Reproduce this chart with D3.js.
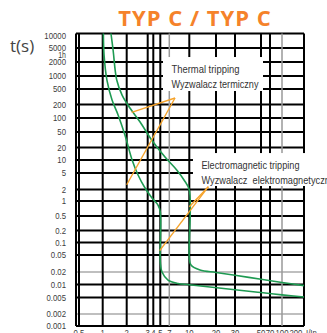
<!DOCTYPE html>
<html><head><meta charset="utf-8">
<script src="https://cdn.jsdelivr.net/npm/d3@7"></script>
<style>
html,body{margin:0;padding:0;background:#fff;overflow:hidden}
svg{display:block}
</style></head><body>
<svg id="chart" width="327" height="333"></svg>
<script>
// ---------- data ----------
const chartTitle = "TYP C / TYP C";
const yAxisTitle = "t(s)";
const xAxisUnit = "I/In";
const xTickValues = [0.5, 1, 2, 3, 4, 5, 7, 10, 20, 30, 50, 70, 100, 200];
const xTickLabels = ["0.5", "1", "2", "3", "4", "5", "7", "10", "20", "30", "50", "70", "100", "200"];
const xGridValues = [0.5, 1, 2, 3, 4, 5, 7, 10, 20, 30, 50, 70, 100];
const xGridLight = [7, 100];
const yTickValues = [10000, 5000, 2000, 1000, 500, 200, 100, 50, 20, 10, 5, 2, 1, 0.5, 0.2, 0.1, 0.05, 0.02, 0.01, 0.005, 0.002, 0.001];
const yTickLabels = ["10000", "5000", "2000", "1000", "500", "200", "100", "50", "20", "10", "5", "2", "1", "0.5", "0.2", "0.1", "0.05", "0.02", "0.01", "0.005", "0.002", "0.001"];
const yGridLight = [0.02, 0.002];
const hourValue = 3600;
const hourLabel = "1h";

// lower (cold) tripping limit
const minCurveI = [1.02, 1.04, 1.13, 1.31, 1.56, 1.90, 2.22, 2.49, 2.85, 3.74, 4.65, 5, 5, 5.33, 6.67, 8.17, 10, 30, 50, 100, 300];
const minCurveT = [10000, 3160, 807, 261, 117, 41.9, 10, 4.48, 2.17, 1.2, 0.83, 0.6, 0.0343, 0.02, 0.0128, 0.0106, 0.0099, 0.00758, 0.0065, 0.00574, 0.00514];
// upper tripping limit
const maxCurveI = [1.27, 1.35, 1.50, 1.75, 2.13, 2.59, 3.68, 5.96, 7.99, 9.1, 10, 10, 10.45, 13.2, 20, 30, 50, 100, 300];
const maxCurveT = [10000, 4385, 807, 350, 167, 82, 31.2, 11.8, 5.87, 3.39, 1.94, 0.0425, 0.0292, 0.0223, 0.0195, 0.0167, 0.0134, 0.0112, 0.0094];

// annotations (data coordinates)
const thermalText = ["Thermal tripping", "Wyzwalacz termiczny"];
const thermalTextWidths = [68, 87];
const thermalBox = {i0: 5.53, t0: 2770, i1: 53.9, t1: 444};
const thermalArrowFrom = {i: 7.75, t: 294};
const thermalArrowTo = [{i: 2.20, t: 134}, {i: 2.0, t: 2.6}];
const emText = ["Electromagnetic tripping", "Wyzwalacz  elektromagnetyczny"];
const emTextWidths = [98, 133];
const emBox = {i0: 11.0, t0: 14.7, i1: 1000, t1: 2.43};
const emArrowFrom = {i: 16.4, t: 2.34};
const emArrowTo = [{i: 10, t: 0.77}, {i: 4.9, t: 0.0635}];

// ---------- layout ----------
const xBreakVals = [0.47, 0.5, 1, 2, 3, 4, 5, 7, 10, 20, 30, 50, 70, 100, 300, 1000];
const xBreakPx   = [76, 79, 102.7, 126.7, 147.7, 153.3, 160.3, 169.3, 189.3, 216, 235, 261, 270, 282, 304, 336];
const yBreakVals = [10000, 5000, 2000, 1000, 500, 200, 100, 50, 20, 10, 5, 2, 1, 0.5, 0.2, 0.1, 0.05, 0.02, 0.01, 0.005, 0.002, 0.001];
const yBreakPx   = [33.5, 48, 62, 76, 89, 104.5, 118, 132, 147.5, 160, 173, 189.5, 201, 216, 230.5, 242.5, 255, 272, 284.5, 297.5, 314, 326];

const xs = d3.scaleLinear().domain(xBreakVals.map(Math.log10)).range(xBreakPx);
const ys = d3.scaleLinear().domain(yBreakVals.map(Math.log10)).range(yBreakPx);
const X = v => xs(Math.log10(v));
const Y = v => ys(Math.log10(v));

const xMin = 0.47, xMax = 300, yMin = 0.001, yMax = 10000;
const svg = d3.select("#chart");

const labelFont = "'Liberation Sans', Arial, sans-serif";
const labelColor = "#3c3c3c";
const condense = 0.82;

// title
svg.append("text").attr("x", 195).attr("y", 26).attr("text-anchor", "middle")
  .attr("font-family", "'Open Sans', sans-serif").attr("font-weight", 700)
  .attr("font-size", 22).attr("letter-spacing", 1).attr("fill", "#f5822a").text(chartTitle);

// y axis title
svg.append("text").attr("x", 10).attr("y", 52)
  .attr("font-family", "'Open Sans', sans-serif").attr("font-size", 17).attr("fill", "#444").text(yAxisTitle);

const grid = svg.append("g");
// horizontal grid
grid.selectAll("line.h").data(yTickValues).join("line")
  .attr("x1", X(xMin)).attr("x2", X(xMax))
  .attr("y1", d => Y(d)).attr("y2", d => Y(d))
  .attr("stroke", d => yGridLight.includes(d) ? "#aaa" : "#000")
  .attr("stroke-width", d => yGridLight.includes(d) ? 1.5 : 2);
// vertical grid
grid.selectAll("line.v").data(xGridValues.concat([xMin, xMax])).join("line")
  .attr("x1", d => X(d)).attr("x2", d => X(d))
  .attr("y1", Y(yMax)).attr("y2", Y(yMin))
  .attr("stroke", d => xGridLight.includes(d) ? "#999" : "#000")
  .attr("stroke-width", d => xGridLight.includes(d) ? 1.5 : 2);

// y tick labels (condensed)
svg.append("g").selectAll("text").data(yTickValues).join("text")
  .attr("transform", (d, i) => `translate(66,${Y(d) + (i === 0 ? 2.5 : 0)}) scale(${condense},1)`)
  .attr("dy", "0.35em").attr("text-anchor", "end")
  .attr("font-family", labelFont).attr("font-size", 9.5).attr("fill", labelColor)
  .text((d, i) => yTickLabels[i]);
svg.append("text").attr("transform", `translate(66,${Y(hourValue) + 1.5}) scale(${condense},1)`)
  .attr("dy", "0.45em").attr("text-anchor", "end")
  .attr("font-family", labelFont).attr("font-size", 8.5).attr("fill", labelColor).text(hourLabel);

// x tick labels (mostly below the visible area, as in the reference)
svg.append("g").selectAll("text").data(xTickValues).join("text")
  .attr("transform", d => `translate(${X(d)},${Y(yMin) + 10}) scale(${condense},1)`)
  .attr("text-anchor", "middle")
  .attr("font-family", labelFont).attr("font-size", 9.5).attr("fill", labelColor)
  .text((d, i) => xTickLabels[i]);
svg.append("text").attr("transform", `translate(${X(xMax) + 2},${Y(yMin) + 10}) scale(${condense},1)`)
  .attr("font-family", labelFont).attr("font-size", 9.5).attr("fill", labelColor).text(xAxisUnit);

// curves
const line = d3.line().x(d => X(d[0])).y(d => Y(d[1])).curve(d3.curveCatmullRom.alpha(0.5));
[[minCurveI, minCurveT], [maxCurveI, maxCurveT]].forEach(([I, T]) => {
  svg.append("path").datum(I.map((v, k) => [v, T[k]]))
    .attr("d", line).attr("fill", "none").attr("stroke", "#1e9a52").attr("stroke-width", 1.6);
});

// annotations
function annot(box, texts, widths, from, tos) {
  svg.append("rect").attr("x", X(box.i0)).attr("y", Y(box.t0))
    .attr("width", X(box.i1) - X(box.i0)).attr("height", Y(box.t1) - Y(box.t0)).attr("fill", "#fff");
  svg.append("g").selectAll("text").data(texts).join("text")
    .attr("x", X(box.i0) + 8.5).attr("y", (d, k) => Y(box.t0) + 15.7 + k * 15.5)
    .attr("font-family", labelFont).attr("font-size", 11).attr("fill", "#333")
    .attr("textLength", (d, k) => widths[k]).attr("lengthAdjust", "spacingAndGlyphs")
    .attr("xml:space", "preserve").style("white-space", "pre").text(d => d);
  tos.forEach(p => svg.append("line").attr("x1", X(from.i)).attr("y1", Y(from.t))
    .attr("x2", X(p.i)).attr("y2", Y(p.t)).attr("stroke", "#f6a32a").attr("stroke-width", 1.4));
}
annot(thermalBox, thermalText, thermalTextWidths, thermalArrowFrom, thermalArrowTo);
annot(emBox, emText, emTextWidths, emArrowFrom, emArrowTo);
</script>
</body></html>
